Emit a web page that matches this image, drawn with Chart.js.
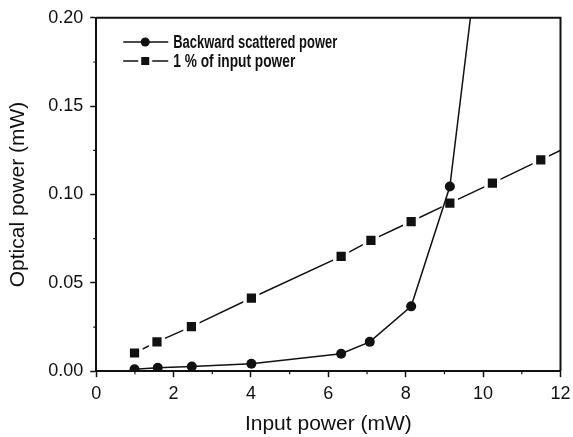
<!DOCTYPE html>
<html>
<head>
<meta charset="utf-8">
<script src="https://cdn.jsdelivr.net/npm/chart.js@4/dist/chart.umd.min.js"></script>
<style>
  html, body { margin: 0; padding: 0; background: #fff; }
  #wrap { width: 573px; height: 437px; position: relative; }
</style>
</head>
<body>
<div id="wrap"><canvas id="c"></canvas></div>
<script>
// ---- data ----
const backX = [0.99, 1.59, 2.47, 4.01, 6.33, 7.07, 8.14, 9.14, 10.2];
const backY = [0.0011, 0.0019, 0.0027, 0.0042, 0.0099, 0.0166, 0.0367, 0.1045, 0.295];
const inX = [0.99, 1.57, 2.46, 4.01, 6.33, 7.10, 8.14, 9.14, 10.24, 11.49, 12.7];
const inY = [0.0103, 0.0166, 0.0252, 0.0414, 0.0650, 0.0740, 0.0847, 0.0951, 0.1064, 0.1196, 0.1323];
const seriesNames = ["Backward scattered power", "1 % of input power"];
const xTitle = "Input power (mW)";
const yTitle = "Optical power (mW)";
const xMinorTicks = [1, 3, 5, 7, 9, 11];
const yMinorTicks = [0.025, 0.075, 0.125, 0.175];

const toXY = (xs, ys) => xs.map((x, i) => ({ x: x, y: ys[i] }));
const INK = '#111';

const frameAndLegend = {
  id: 'frameAndLegend',
  afterDatasetsDraw(chart) {
    const { ctx, chartArea: a, scales } = chart;
    ctx.save();
    // top and right frame lines
    ctx.strokeStyle = INK;
    ctx.lineWidth = 2;
    ctx.beginPath();
    ctx.moveTo(a.left, a.top);
    ctx.lineTo(a.right, a.top);
    ctx.lineTo(a.right, a.bottom);
    ctx.stroke();
    // minor ticks
    ctx.lineWidth = 1.2;
    ctx.beginPath();
    xMinorTicks.forEach(v => {
      const px = scales.x.getPixelForValue(v);
      ctx.moveTo(px, a.bottom);
      ctx.lineTo(px, a.bottom + 3);
    });
    yMinorTicks.forEach(v => {
      const py = scales.y.getPixelForValue(v);
      ctx.moveTo(a.left, py);
      ctx.lineTo(a.left - 3, py);
    });
    ctx.stroke();

    // legend inside plot area
    const rows = [42, 61];
    const lx0 = a.left + 27, lx1 = a.left + 72, mx = a.left + 49;
    chart.data.datasets.forEach((ds, i) => {
      const y = rows[i];
      ctx.strokeStyle = INK;
      ctx.lineWidth = 1.5;
      ctx.beginPath();
      if (i === 1) {
        ctx.moveTo(lx0, y); ctx.lineTo(mx - 7, y);
        ctx.moveTo(mx + 7, y); ctx.lineTo(lx1, y);
      } else {
        ctx.moveTo(lx0, y); ctx.lineTo(lx1, y);
      }
      ctx.stroke();
      ctx.fillStyle = INK;
      if (i === 0) {
        ctx.beginPath(); ctx.arc(mx, y, 4.5, 0, Math.PI * 2); ctx.fill();
      } else {
        ctx.fillRect(mx - 4, y - 4, 8, 8);
      }
      ctx.font = 'bold 18px "Liberation Sans", Arial, sans-serif';
      ctx.textBaseline = 'middle';
      ctx.textAlign = 'left';
      const txt = ds.label;
      const w = ctx.measureText(txt).width;
      const target = i === 0 ? 164 : 122;
      ctx.save();
      ctx.translate(a.left + 77, y);
      ctx.scale(target / w, 1);
      ctx.fillText(txt, 0, 1);
      ctx.restore();
    });
    ctx.restore();
  }
};

new Chart(document.getElementById('c'), {
  type: 'line',
  data: {
    datasets: [
      {
        label: seriesNames[0],
        data: toXY(backX, backY),
        borderColor: INK,
        backgroundColor: INK,
        borderWidth: 1.5,
        pointStyle: 'circle',
        pointRadius: 5,
        pointBorderWidth: 0,
        pointBackgroundColor: INK,
        tension: 0
      },
      {
        label: seriesNames[1],
        data: toXY(inX, inY),
        borderColor: INK,
        backgroundColor: INK,
        borderWidth: 1.5,
        pointStyle: 'rect',
        pointRadius: 9,
        pointBorderWidth: 3.5,
        pointBorderColor: '#fff',
        pointBackgroundColor: INK,
        tension: 0
      }
    ]
  },
  options: {
    responsive: true,
    maintainAspectRatio: false,
    animation: false,
    events: [],
    layout: { padding: { top: 4, right: 0, left: 6, bottom: 0 } },
    plugins: { legend: { display: false }, tooltip: { enabled: false } },
    scales: {
      x: {
        type: 'linear',
        min: 0, max: 12,
        afterFit: s => { s.paddingRight = 11; },
        ticks: { stepSize: 2, color: INK, font: { family: '"Liberation Sans", Arial', size: 18 }, padding: 6, maxRotation: 0 },
        grid: { drawOnChartArea: false, drawTicks: true, tickLength: 6, color: INK, tickWidth: 1.5 },
        border: { display: true, color: INK, width: 2 },
        title: { display: true, text: xTitle, color: INK, font: { family: '"Liberation Sans", Arial', size: 21 }, padding: { top: 1, bottom: 0 } }
      },
      y: {
        type: 'linear',
        min: 0, max: 0.2,
        ticks: { stepSize: 0.05, color: INK, font: { family: '"Liberation Sans", Arial', size: 18 }, padding: 7, callback: v => v.toFixed(2) },
        grid: { drawOnChartArea: false, drawTicks: true, tickLength: 6, color: INK, tickWidth: 1.5 },
        border: { display: true, color: INK, width: 2 },
        title: { display: true, text: yTitle, color: INK, font: { family: '"Liberation Sans", Arial', size: 21 }, padding: { top: 0, bottom: 10 } }
      }
    }
  },
  plugins: [frameAndLegend]
});
</script>
</body>
</html>
